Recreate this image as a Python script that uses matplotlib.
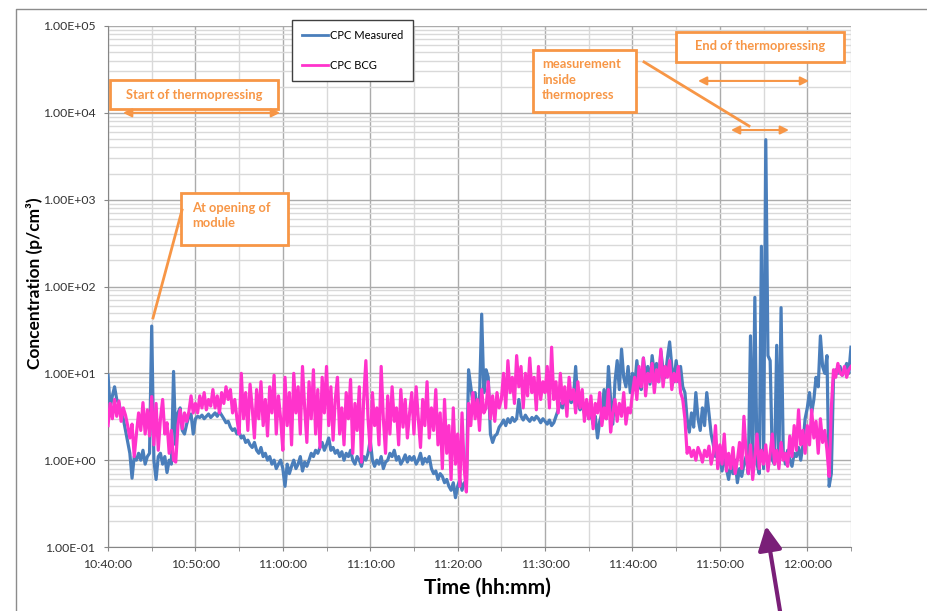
import numpy as np
import matplotlib.pyplot as plt
from matplotlib.patches import Rectangle, ConnectionPatch
from matplotlib.lines import Line2D
from matplotlib.ticker import LogLocator, MultipleLocator, FuncFormatter, NullFormatter

plt.rcParams['font.family'] = ['Lato', 'DejaVu Sans']

# particle counts, one reading every 15 s starting 10:40:00
measured = [
    9.5, 4.0, 5.5, 7.0, 5.0, 4.5, 3.5, 3.0, 2.2, 1.6, 1.2, 0.62, 1.1, 1.0, 1.2, 1.0, 1.3, 0.9, 1.1, 1.2,
    35, 1.0, 0.6, 1.1, 1.2, 0.9, 1.1, 0.72, 1.0, 0.9, 10.5, 1.5, 3.5, 4.0, 2.2, 2.0, 2.6, 3.2, 3.4, 2.0,
    3.0, 3.2, 3.1, 3.3, 3.0, 3.2, 3.4, 3.1, 3.3, 3.5, 3.2, 3.6, 3.3, 3.0, 2.7, 2.8, 2.4, 2.2, 2.3, 2.0,
    2.1, 1.8, 1.9, 1.6, 1.7, 1.5, 1.4, 1.6, 1.3, 1.2, 1.4, 1.1, 1.2, 1.0, 1.1, 0.9, 1.0, 0.8, 0.9, 1.0,
    0.8, 0.5, 0.9, 0.7, 0.85, 1.0, 0.8, 0.9, 1.1, 0.75, 0.95, 0.85, 1.0, 1.2, 1.1, 1.3, 1.2, 1.4, 1.6, 1.3,
    1.5, 1.8, 1.3, 1.4, 1.2, 1.3, 1.1, 1.25, 1.0, 1.2, 1.1, 1.3, 1.0, 0.9, 1.1, 1.0, 0.85, 1.1, 1.0, 1.2,
    1.7, 1.0, 0.85, 1.0, 0.9, 1.1, 0.8, 0.95, 1.0, 1.2, 1.1, 1.3, 1.0, 1.1, 0.9, 1.0, 1.15, 0.95, 1.1, 1.0,
    1.1, 0.9, 1.0, 1.2, 0.9, 1.05, 0.95, 1.1, 0.8, 0.7, 0.75, 0.6, 0.7, 0.65, 0.55, 0.6, 0.5, 0.45, 0.55, 0.37,
    0.5, 0.6, 0.45, 0.55, 0.5, 11, 7.0, 4.5, 6.0, 3.8, 5.0, 48, 6.0, 11, 9.0, 2.0, 1.6, 1.9, 2.0, 2.4,
    2.6, 2.9, 2.5, 3.0, 2.7, 3.1, 2.8, 3.0, 5.0, 3.2, 2.9, 3.3, 3.0, 2.8, 3.1, 2.9, 3.2, 3.0, 2.7, 3.0,
    2.8, 2.6, 2.9, 2.5, 2.7, 3.2, 3.8, 4.5, 4.0, 5.0, 4.2, 5.4, 4.6, 5.2, 12, 4.5, 3.8, 4.2, 3.5, 3.9,
    3.0, 3.5, 2.6, 3.2, 1.8, 2.8, 3.5, 6.5, 3.0, 12, 5.0, 2.6, 8.0, 14, 6.5, 19, 9.0, 7.0, 12, 6.0,
    10, 7.0, 14, 8.0, 6.5, 15, 9.0, 12, 7.5, 16, 10, 13, 8.0, 18, 11, 9.0, 15, 23, 12, 8.0,
    14, 8.0, 12, 7.0, 6.0, 3.0, 2.1, 3.5, 2.4, 6.0, 3.0, 2.2, 4.0, 2.5, 6.0, 3.5, 2.0, 1.5, 1.1, 1.4,
    1.0, 0.75, 1.2, 0.8, 0.6, 0.9, 0.7, 1.0, 0.55, 0.8, 0.65, 0.9, 1.1, 0.7, 27, 0.8, 75, 0.9, 0.7, 290,
    0.8, 4900, 16, 14, 1.0, 0.9, 21, 0.9, 57, 1.2, 0.9, 1.3, 1.0, 0.85, 1.2, 1.1, 1.4, 1.0, 1.5, 3.0,
    4.0, 6.0, 3.5, 5.0, 9.0, 7.0, 27, 12, 10, 16, 0.5, 0.7, 9.0, 11, 10, 12, 9.5, 11, 13, 10, 20,
]

bcg = [
    2.5, 4.5, 3.0, 5.0, 3.2, 4.8, 2.8, 4.0, 3.3, 2.5, 1.8, 2.6, 1.1, 2.0, 3.5, 2.2, 4.6, 2.0, 3.8, 1.9,
    5.4, 1.5, 4.5, 1.3, 3.0, 5.0, 2.0, 2.7, 1.2, 2.2, 1.0, 0.95, 2.5, 3.8, 2.3, 3.5, 2.8, 3.6, 5.5, 3.5,
    4.5, 3.5, 5.5, 4.0, 6.0, 3.8, 5.0, 4.2, 6.5, 4.0, 5.5, 3.5, 6.0, 4.5, 7.0, 5.0, 6.5, 3.5, 5.0, 3.0,
    2.0, 10, 3.0, 6.0, 2.2, 7.5, 4.0, 1.8, 6.5, 3.0, 8.0, 2.5, 5.0, 1.9, 7.0, 3.5, 9.5, 2.0, 5.5, 3.0,
    1.3, 9.0, 2.5, 6.0, 1.5, 10, 3.5, 7.0, 2.0, 12, 4.0, 1.6, 8.0, 3.0, 11, 2.0, 6.5, 1.4, 9.0, 3.5,
    12, 2.5, 7.0, 1.7, 5.0, 9.0, 2.0, 4.0, 1.5, 6.0, 3.0, 8.5, 1.2, 4.5, 2.2, 7.0, 0.95, 5.0, 14, 3.0,
    1.3, 6.0, 2.5, 4.0, 1.5, 12, 3.0, 1.2, 5.5, 2.0, 7.0, 2.8, 4.0, 1.5, 6.5, 2.4, 5.0, 1.8, 3.5, 6.0,
    2.0, 7.0, 3.0, 1.4, 5.0, 2.5, 8.0, 1.8, 4.0, 2.2, 6.5, 1.5, 3.5, 0.8, 5.0, 1.2, 2.5, 0.6, 4.0, 0.9,
    2.0, 0.5, 3.5, 0.8, 0.43, 4.5, 2.5, 6.0, 3.0, 5.0, 2.2, 6.5, 3.5, 4.0, 8.0, 3.0, 5.5, 2.8, 6.0, 4.0,
    5.0, 10, 4.0, 14, 6.0, 9.0, 4.5, 16, 7.0, 12, 4.0, 10, 5.5, 15, 6.0, 9.0, 3.8, 12, 5.0, 8.0,
    6.0, 12, 4.0, 20, 5.0, 8.0, 3.5, 10, 4.5, 7.0, 3.2, 9.0, 5.0, 6.5, 3.5, 8.0, 4.0, 6.5, 2.8, 5.0,
    3.0, 5.5, 2.3, 4.5, 3.5, 6.0, 2.5, 4.0, 3.0, 6.5, 2.1, 3.5, 5.0, 2.8, 4.5, 3.2, 6.0, 2.6, 4.0, 3.5,
    6.0, 9.0, 5.0, 12, 7.0, 15, 5.5, 10, 8.0, 13, 6.0, 11, 8.0, 19, 7.0, 12, 9.0, 14, 6.5, 10,
    8.0, 12, 6.0, 5.0, 3.0, 1.2, 1.4, 1.1, 1.3, 1.0, 1.4, 1.2, 0.95, 1.3, 1.1, 1.45, 0.9, 1.2, 2.5, 0.8,
    1.5, 0.9, 2.0, 0.75, 1.2, 0.8, 1.4, 0.7, 1.0, 1.6, 0.8, 3.2, 1.2, 0.7, 1.5, 0.6, 1.1, 2.0, 0.8, 1.3,
    0.9, 1.5, 0.75, 1.2, 2.0, 0.9, 1.3, 0.8, 1.6, 1.0, 1.2, 0.85, 1.9, 1.1, 2.5, 1.3, 3.8, 1.5, 2.2, 1.2,
    2.5, 1.5, 3.8, 1.8, 2.8, 1.2, 3.0, 1.6, 2.2, 1.3, 0.65, 4.0, 11, 9.0, 13, 10, 9.5, 12, 9.0, 11, 12,
]

decades = [1e-1, 1e0, 1e1, 1e2, 1e3, 1e4, 1e5]

minutes = np.arange(len(measured)) * 0.25

BLUE = '#4A7EBB'
PINK = '#FF33CC'
ORANGE = '#F79646'
PURPLE = '#7A1F78'


def clock(m, pos=None):
    s = int(round(m * 60)) + 10 * 3600 + 40 * 60
    return f"{s // 3600}:{s % 3600 // 60:02d}:{s % 60:02d}"


def note(t0, t1, v0, v1):
    ax.add_patch(Rectangle((t0, v0), t1 - t0, v1 - v0, facecolor='white',
                           edgecolor=ORANGE, lw=2, zorder=6))


def span(t0, t1, v):
    ax.annotate('', xy=(t0, v), xytext=(t1, v), zorder=6,
                arrowprops=dict(arrowstyle='<|-|>,head_length=0.5,head_width=0.25',
                                mutation_scale=10, color=ORANGE, lw=1.5,
                                shrinkA=0, shrinkB=0))


def leader(t0, v0, t1, v1):
    ax.plot([t0, t1], [v0, v1], color=ORANGE, lw=2, zorder=6)


fig = plt.figure(figsize=(9.27, 6.11), dpi=100)
ax = fig.add_axes([108 / 927, 64 / 611, 743 / 927, 521 / 611])

ax.plot(minutes, measured, color=BLUE, lw=2.3, label='CPC Measured', zorder=3)
ax.plot(minutes, bcg, color=PINK, lw=2.3, label='CPC BCG', zorder=4)

ax.set_yscale('log')
ax.set_ylim(decades[0], decades[-1])
ax.set_xlim(0, 85)

ax.set_xticks(np.arange(0, 81, 10))
ax.set_xticks(np.arange(0, 86, 5), minor=True)
ax.xaxis.set_major_formatter(FuncFormatter(clock))
ax.set_yticks(decades)
ax.yaxis.set_minor_locator(LogLocator(base=10, subs=np.arange(2, 10), numticks=20))
ax.yaxis.set_major_formatter(FuncFormatter(lambda v, p: f'{v:.2E}'))
ax.yaxis.set_minor_formatter(NullFormatter())

ax.grid(which='major', color='#ABABAB', lw=1)
ax.grid(which='minor', color='#D9D9D9', lw=1)
ax.set_axisbelow(True)

for side in ('top', 'right'):
    ax.spines[side].set_visible(False)
for side in ('left', 'bottom'):
    ax.spines[side].set_color('#868686')

ax.tick_params(axis='both', which='major', length=3, color='#868686',
               labelsize=8.8, labelcolor='#333333', pad=6)
ax.tick_params(axis='x', which='minor', length=3, color='#868686')
ax.tick_params(axis='y', which='minor', length=0)

ax.set_ylabel('Concentration (p/cm³)', fontsize=12.5, fontweight='bold')
ax.yaxis.set_label_coords(-0.088, 0.507)
ax.set_xlabel('Time (hh:mm)', fontsize=15, fontweight='bold')
ax.xaxis.set_label_coords(0.511, -0.058)

leg = ax.legend(loc='upper left', bbox_to_anchor=(292 / 927, 1 - 20 / 611),
                bbox_transform=fig.transFigure, fontsize=8, handlelength=2.3,
                handletextpad=0.2, labelspacing=1.7, borderpad=0.9,
                borderaxespad=0, fancybox=False, edgecolor='#404040', framealpha=1)
leg.get_frame().set_linewidth(1)
for h in leg.get_lines():
    h.set_linewidth(2)

# annotations
tfont = dict(color=ORANGE, fontsize=9.3, fontweight='bold', zorder=7)

note(0.23, 19.45, 11070, 23900)
ax.text(9.84, 16250, 'Start of thermopressing', ha='center', va='center', **tfont)
span(1.72, 19.68, 1e4)

note(8.35, 20.59, 300, 1194)
ax.text(9.6, 649, 'At opening of\nmodule', ha='left', va='center', linespacing=1.3, **tfont)
leader(8.47, 760, 5.15, 43.4)

note(48.6, 60.4, 10230, 52970)
ax.text(49.65, 23900, 'measurement\ninside\nthermopress', ha='left', va='center',
        linespacing=1.35, **tfont)
leader(61.32, 38550, 73.33, 7060)
span(71.27, 77.9, 6340)

note(64.98, 84.2, 38550, 85300)
ax.text(74.6, 58900, 'End of thermopressing', ha='center', va='center', **tfont)
span(67.5, 80.2, 23300)

# pointer to the peak coming up from below the chart
pointer = ConnectionPatch(xyA=(780 / 927, 0.0), coordsA='figure fraction',
                          xyB=(75.28, 0.1746), coordsB=ax.transData,
                          arrowstyle='-|>,head_length=0.8,head_width=0.4',
                          mutation_scale=18, color=PURPLE, lw=3,
                          shrinkA=0, shrinkB=0, zorder=8)
fig.add_artist(pointer)

fig.add_artist(Line2D([16 / 927, 16 / 927, 1.0], [0, 1 - 9 / 611, 1 - 9 / 611],
                      transform=fig.transFigure, color='#8C8C8C', lw=1))

fig.savefig('out.png', dpi=100)
